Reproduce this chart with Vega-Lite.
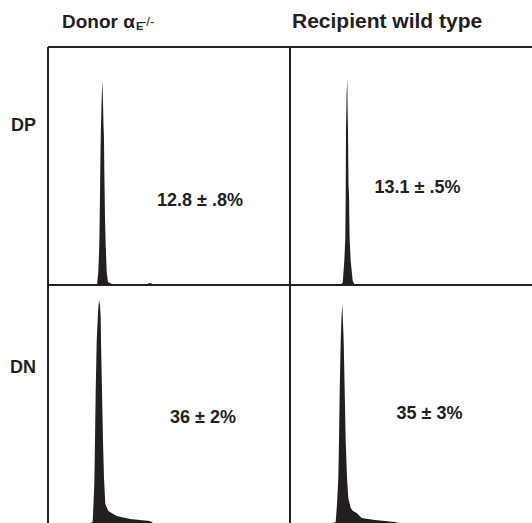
{
  "$schema": "https://vega.github.io/schema/vega-lite/v6.json",
  "autosize": {"type": "pad"},
  "padding": {"left": 10, "top": 11, "right": 0, "bottom": 0},
  "background": "white",
  "config": {"view": {"stroke": null}, "font": "Liberation Sans"},
  "data": {"values": [
    {"r":"DP","c":"Donor","k":"frame"},
    {"r":"DP","c":"Recipient","k":"frame"},
    {"r":"DN","c":"Donor","k":"frame"},
    {"r":"DN","c":"Recipient","k":"frame"},
    {"r":"DP","c":"Donor","k":"pct","x":152,"y":84,"t":"12.8 ± .8%"},
    {"r":"DP","c":"Recipient","k":"pct","x":127.5,"y":97,"t":"13.1 ± .5%"},
    {"r":"DN","c":"Donor","k":"pct","x":155,"y":105,"t":"36 ± 2%"},
    {"r":"DN","c":"Recipient","k":"pct","x":139.5,"y":109,"t":"35 ± 3%"},
    {"r":"DP","c":"Donor","k":"rowlab","x":-12,"y":159,"t":"DP"},
    {"r":"DN","c":"Donor","k":"rowlab","x":-12,"y":155,"t":"DN"},
    {"r":"DP","c":"Donor","k":"head","x":14,"y":256.7,"t":"Donor α"},
    {"r":"DP","c":"Donor","k":"sub","x":88,"y":254.7,"t":"E"},
    {"r":"DP","c":"Donor","k":"sup","x":94,"y":259,"t":"-/-"},
    {"r":"DP","c":"Recipient","k":"head2","x":2,"y":256.7,"t":"Recipient wild type"},

    {"r":"DP","c":"Donor","k":"hist","x":48,"y":0},
    {"r":"DP","c":"Donor","k":"hist","x":49,"y":0.5},
    {"r":"DP","c":"Donor","k":"hist","x":50.3,"y":13},
    {"r":"DP","c":"Donor","k":"hist","x":51.3,"y":40},
    {"r":"DP","c":"Donor","k":"hist","x":51.7,"y":66},
    {"r":"DP","c":"Donor","k":"hist","x":52.3,"y":116},
    {"r":"DP","c":"Donor","k":"hist","x":52.7,"y":146},
    {"r":"DP","c":"Donor","k":"hist","x":53.5,"y":180},
    {"r":"DP","c":"Donor","k":"hist","x":54.3,"y":204},
    {"r":"DP","c":"Donor","k":"hist","x":54.8,"y":190},
    {"r":"DP","c":"Donor","k":"hist","x":55.5,"y":160},
    {"r":"DP","c":"Donor","k":"hist","x":56,"y":146},
    {"r":"DP","c":"Donor","k":"hist","x":56.3,"y":116},
    {"r":"DP","c":"Donor","k":"hist","x":57,"y":66},
    {"r":"DP","c":"Donor","k":"hist","x":57.7,"y":40},
    {"r":"DP","c":"Donor","k":"hist","x":58.7,"y":13},
    {"r":"DP","c":"Donor","k":"hist","x":60,"y":3},
    {"r":"DP","c":"Donor","k":"hist","x":63.7,"y":1},
    {"r":"DP","c":"Donor","k":"hist","x":67,"y":0.3},
    {"r":"DP","c":"Donor","k":"hist","x":72,"y":0},
    {"r":"DP","c":"Donor","k":"hist","x":98,"y":0},
    {"r":"DP","c":"Donor","k":"hist","x":100,"y":1.5},
    {"r":"DP","c":"Donor","k":"hist","x":102,"y":2},
    {"r":"DP","c":"Donor","k":"hist","x":105,"y":0.8},
    {"r":"DP","c":"Donor","k":"hist","x":107,"y":0},

    {"r":"DP","c":"Recipient","k":"hist","x":50,"y":0},
    {"r":"DP","c":"Recipient","k":"hist","x":52.7,"y":2},
    {"r":"DP","c":"Recipient","k":"hist","x":54.3,"y":24},
    {"r":"DP","c":"Recipient","k":"hist","x":55.3,"y":47},
    {"r":"DP","c":"Recipient","k":"hist","x":55.7,"y":90},
    {"r":"DP","c":"Recipient","k":"hist","x":56,"y":155},
    {"r":"DP","c":"Recipient","k":"hist","x":56.6,"y":190},
    {"r":"DP","c":"Recipient","k":"hist","x":57.3,"y":207},
    {"r":"DP","c":"Recipient","k":"hist","x":57.6,"y":175},
    {"r":"DP","c":"Recipient","k":"hist","x":58,"y":155},
    {"r":"DP","c":"Recipient","k":"hist","x":58.5,"y":100},
    {"r":"DP","c":"Recipient","k":"hist","x":59,"y":90},
    {"r":"DP","c":"Recipient","k":"hist","x":59.6,"y":47},
    {"r":"DP","c":"Recipient","k":"hist","x":60.7,"y":24},
    {"r":"DP","c":"Recipient","k":"hist","x":62.7,"y":4},
    {"r":"DP","c":"Recipient","k":"hist","x":65,"y":0},

    {"r":"DN","c":"Donor","k":"hist","x":42,"y":0},
    {"r":"DN","c":"Donor","k":"hist","x":44.7,"y":1},
    {"r":"DN","c":"Donor","k":"hist","x":45.3,"y":15},
    {"r":"DN","c":"Donor","k":"hist","x":46.3,"y":39},
    {"r":"DN","c":"Donor","k":"hist","x":47,"y":82},
    {"r":"DN","c":"Donor","k":"hist","x":47.7,"y":132},
    {"r":"DN","c":"Donor","k":"hist","x":48.7,"y":182},
    {"r":"DN","c":"Donor","k":"hist","x":50,"y":210},
    {"r":"DN","c":"Donor","k":"hist","x":51,"y":223},
    {"r":"DN","c":"Donor","k":"hist","x":52,"y":218},
    {"r":"DN","c":"Donor","k":"hist","x":52.7,"y":205},
    {"r":"DN","c":"Donor","k":"hist","x":53,"y":182},
    {"r":"DN","c":"Donor","k":"hist","x":54,"y":132},
    {"r":"DN","c":"Donor","k":"hist","x":55,"y":82},
    {"r":"DN","c":"Donor","k":"hist","x":56,"y":45},
    {"r":"DN","c":"Donor","k":"hist","x":57.3,"y":19},
    {"r":"DN","c":"Donor","k":"hist","x":60.3,"y":12},
    {"r":"DN","c":"Donor","k":"hist","x":68.7,"y":7},
    {"r":"DN","c":"Donor","k":"hist","x":82,"y":4},
    {"r":"DN","c":"Donor","k":"hist","x":92,"y":3},
    {"r":"DN","c":"Donor","k":"hist","x":102,"y":2},
    {"r":"DN","c":"Donor","k":"hist","x":105,"y":0},

    {"r":"DN","c":"Recipient","k":"hist","x":43,"y":0},
    {"r":"DN","c":"Recipient","k":"hist","x":45.7,"y":1},
    {"r":"DN","c":"Recipient","k":"hist","x":47,"y":19},
    {"r":"DN","c":"Recipient","k":"hist","x":48.3,"y":45},
    {"r":"DN","c":"Recipient","k":"hist","x":49,"y":82},
    {"r":"DN","c":"Recipient","k":"hist","x":49.7,"y":132},
    {"r":"DN","c":"Recipient","k":"hist","x":50.7,"y":182},
    {"r":"DN","c":"Recipient","k":"hist","x":51.5,"y":205},
    {"r":"DN","c":"Recipient","k":"hist","x":52.3,"y":219},
    {"r":"DN","c":"Recipient","k":"hist","x":53,"y":200},
    {"r":"DN","c":"Recipient","k":"hist","x":53.7,"y":182},
    {"r":"DN","c":"Recipient","k":"hist","x":54.7,"y":132},
    {"r":"DN","c":"Recipient","k":"hist","x":55.7,"y":82},
    {"r":"DN","c":"Recipient","k":"hist","x":57,"y":45},
    {"r":"DN","c":"Recipient","k":"hist","x":58.3,"y":25},
    {"r":"DN","c":"Recipient","k":"hist","x":60.7,"y":15},
    {"r":"DN","c":"Recipient","k":"hist","x":63,"y":12},
    {"r":"DN","c":"Recipient","k":"hist","x":66.7,"y":10},
    {"r":"DN","c":"Recipient","k":"hist","x":71.7,"y":5},
    {"r":"DN","c":"Recipient","k":"hist","x":78,"y":4},
    {"r":"DN","c":"Recipient","k":"hist","x":85,"y":3},
    {"r":"DN","c":"Recipient","k":"hist","x":95,"y":2},
    {"r":"DN","c":"Recipient","k":"hist","x":105,"y":1},
    {"r":"DN","c":"Recipient","k":"hist","x":108,"y":0}
  ]},
  "facet": {
    "row": {"field": "r", "type": "nominal", "sort": "descending", "header": {"labels": false, "title": null}},
    "column": {"field": "c", "type": "nominal", "sort": "ascending", "header": {"labels": false, "title": null}}
  },
  "spacing": 0,
  "bounds": "flush",
  "spec": {
    "width": 242,
    "height": 238,
    "layer": [
      {
        "transform": [{"filter": "datum.k === 'hist'"}],
        "mark": {"type": "area", "color": "#231f20", "interpolate": "linear"},
        "encoding": {
          "x": {"field": "x", "type": "quantitative", "scale": {"domain": [0, 242], "nice": false, "zero": false}, "axis": null},
          "y": {"field": "y", "type": "quantitative", "scale": {"domain": [0, 238], "nice": false}, "axis": null}
        }
      },
      {
        "transform": [{"filter": "datum.k === 'frame'"}],
        "mark": {"type": "rule", "color": "#231f20", "strokeWidth": 2},
        "encoding": {
          "x": {"datum": 0, "type": "quantitative", "scale": {"domain": [0, 242], "nice": false, "zero": false}, "axis": null}
        }
      },
      {
        "transform": [{"filter": "datum.k === 'frame'"}],
        "mark": {"type": "rule", "color": "#231f20", "strokeWidth": 2},
        "encoding": {
          "y": {"datum": 238, "type": "quantitative", "scale": {"domain": [0, 238], "nice": false}, "axis": null}
        }
      },
      {
        "transform": [{"filter": "datum.k === 'pct'"}],
        "mark": {"type": "text", "color": "#231f20", "fontSize": 18, "fontWeight": "bold", "align": "center", "baseline": "middle"},
        "encoding": {
          "x": {"field": "x", "type": "quantitative"},
          "y": {"field": "y", "type": "quantitative"},
          "text": {"field": "t"}
        }
      },
      {
        "transform": [{"filter": "datum.k === 'rowlab'"}],
        "mark": {"type": "text", "color": "#231f20", "fontSize": 18, "fontWeight": "bold", "align": "right", "baseline": "middle"},
        "encoding": {
          "x": {"field": "x", "type": "quantitative"},
          "y": {"field": "y", "type": "quantitative"},
          "text": {"field": "t"}
        }
      },
      {
        "transform": [{"filter": "datum.k === 'head'"}],
        "mark": {"type": "text", "color": "#231f20", "fontSize": 19, "fontWeight": "bold", "align": "left", "baseline": "alphabetic"},
        "encoding": {
          "x": {"field": "x", "type": "quantitative"},
          "y": {"field": "y", "type": "quantitative"},
          "text": {"field": "t"}
        }
      },
      {
        "transform": [{"filter": "datum.k === 'head2'"}],
        "mark": {"type": "text", "color": "#231f20", "fontSize": 21, "fontWeight": "bold", "align": "left", "baseline": "alphabetic"},
        "encoding": {
          "x": {"field": "x", "type": "quantitative"},
          "y": {"field": "y", "type": "quantitative"},
          "text": {"field": "t"}
        }
      },
      {
        "transform": [{"filter": "datum.k === 'sub'"}],
        "mark": {"type": "text", "color": "#231f20", "fontSize": 11, "fontWeight": "bold", "align": "left", "baseline": "alphabetic"},
        "encoding": {
          "x": {"field": "x", "type": "quantitative"},
          "y": {"field": "y", "type": "quantitative"},
          "text": {"field": "t"}
        }
      },
      {
        "transform": [{"filter": "datum.k === 'sup'"}],
        "mark": {"type": "text", "color": "#231f20", "fontSize": 13, "fontWeight": "normal", "align": "left", "baseline": "alphabetic"},
        "encoding": {
          "x": {"field": "x", "type": "quantitative"},
          "y": {"field": "y", "type": "quantitative"},
          "text": {"field": "t"}
        }
      }
    ]
  }
}
